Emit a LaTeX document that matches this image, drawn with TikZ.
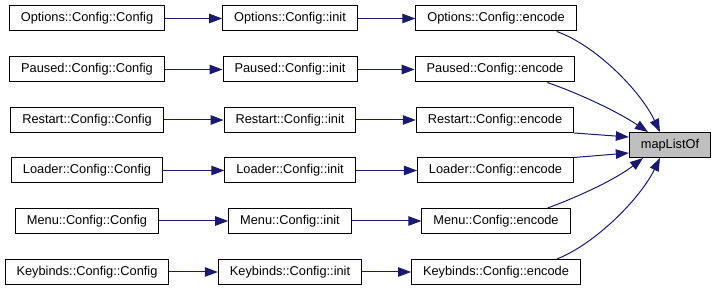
\documentclass[tikz,border=0pt]{standalone}
\usepackage{fontspec}
\setmainfont{Liberation Sans}
\usepackage{tikz}
\usetikzlibrary{arrows.meta}
\definecolor{edgeblue}{HTML}{191970}
\definecolor{keygray}{HTML}{BFBFBF}

\begin{document}
\begin{tikzpicture}[x=1pt,y=-1pt,
    fn/.style={draw=black,fill=white,line width=1pt,minimum height=25pt,
      inner xsep=11.5pt,font=\fontsize{12.8}{15}\selectfont},
    call/.style={edgeblue,line width=1pt,-{Triangle[length=13pt,width=9.5pt]}}]
  \useasboundingbox (0,0) rectangle (716,291);
  % constructors
  \node[fn] (opCfg) at (87,18.5) {Options::Config::Config};
  \node[fn] (paCfg) at (87,69.5) {Paused::Config::Config};
  \node[fn] (reCfg) at (87,120) {Restart::Config::Config};
  \node[fn] (loCfg) at (87,170.5) {Loader::Config::Config};
  \node[fn] (meCfg) at (87,221) {Menu::Config::Config};
  \node[fn] (kbCfg) at (87,272) {Keybinds::Config::Config};
  % init
  \node[fn] (opInit) at (290,18.5) {Options::Config::init};
  \node[fn] (paInit) at (290,69.5) {Paused::Config::init};
  \node[fn] (reInit) at (290,120) {Restart::Config::init};
  \node[fn] (loInit) at (290,170.5) {Loader::Config::init};
  \node[fn] (meInit) at (290,221) {Menu::Config::init};
  \node[fn] (kbInit) at (290,272) {Keybinds::Config::init};
  % encode
  \node[fn] (opEnc) at (496,18.5) {Options::Config::encode};
  \node[fn] (paEnc) at (495,69.5) {Paused::Config::encode};
  \node[fn] (reEnc) at (495,120) {Restart::Config::encode};
  \node[fn] (loEnc) at (495.5,170.5) {Loader::Config::encode};
  \node[fn] (meEnc) at (496,221) {Menu::Config::encode};
  \node[fn] (kbEnc) at (496,272) {Keybinds::Config::encode};
  \node[fn,fill=keygray] (map) at (670,145) {mapListOf};

  \draw[call] (opCfg) -- (opInit);
  \draw[call] (paCfg) -- (paInit);
  \draw[call] (reCfg) -- (reInit);
  \draw[call] (loCfg) -- (loInit);
  \draw[call] (meCfg) -- (meInit);
  \draw[call] (kbCfg) -- (kbInit);

  \draw[call] (opInit) -- (opEnc);
  \draw[call] (paInit) -- (paEnc);
  \draw[call] (reInit) -- (reEnc);
  \draw[call] (loInit) -- (loEnc);
  \draw[call] (meInit) -- (meEnc);
  \draw[call] (kbInit) -- (kbEnc);

  % everything ends in mapListOf
  \draw[call] ([xshift=-20pt]opEnc.south east) .. controls (595,45) and (640,90) .. ([xshift=-10pt]map.north);
  \draw[call] ([xshift=-28pt]paEnc.south east) .. controls (575,92) and (615,110) .. ([xshift=-22pt]map.north);
  \draw[call] (reEnc.south east) -- ([yshift=8pt]map.west);
  \draw[call] (loEnc.north east) -- ([yshift=-8pt]map.west);
  \draw[call] ([xshift=-23pt]meEnc.north east) .. controls (575,198) and (615,180) .. ([xshift=-27pt]map.south);
  \draw[call] ([xshift=-24pt]kbEnc.north east) .. controls (595,244) and (640,199) .. ([xshift=-10pt]map.south);
\end{tikzpicture}
\end{document}
